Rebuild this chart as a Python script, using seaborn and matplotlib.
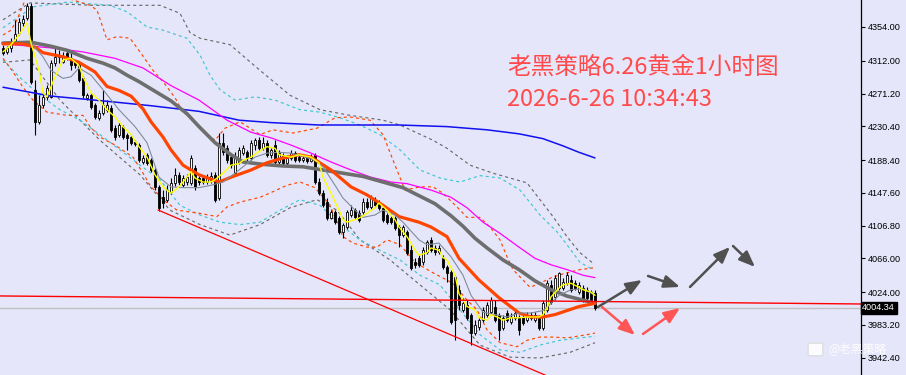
import matplotlib
matplotlib.use("Agg")
import matplotlib.pyplot as plt
import matplotlib.transforms as mtransforms
from matplotlib.patches import FancyBboxPatch
import seaborn as sns
import numpy as np

sns.set_theme(style="white")
plt.rcParams['font.family'] = ['Noto Sans CJK SC', 'DejaVu Sans']

# ---------------- data: 1h gold candles ----------------
opens = [4328, 4323, 4328, 4335, 4347, 4359, 4365, 4380, 4276, 4236,
         4257, 4267, 4267, 4309, 4317, 4310, 4322, 4315, 4310, 4307,
         4290, 4266, 4269, 4257, 4241, 4247, 4251, 4253, 4228, 4220,
         4230, 4220, 4217, 4211, 4207, 4186, 4195, 4188, 4176, 4155,
         4142, 4139, 4149, 4160, 4170, 4157, 4161, 4160, 4178, 4166,
         4166, 4161, 4164, 4170, 4141, 4210, 4203, 4192, 4172, 4186,
         4197, 4198, 4191, 4207, 4213, 4203, 4210, 4195, 4207, 4186,
         4195, 4185, 4191, 4197, 4192, 4188, 4191, 4187, 4195, 4161,
         4147, 4136, 4116, 4124, 4116, 4099, 4105, 4120, 4126, 4122,
         4124, 4136, 4130, 4139, 4135, 4129, 4120, 4116, 4116, 4105,
         4095, 4099, 4076, 4062, 4066, 4062, 4074, 4089, 4079, 4074,
         4066, 4055, 4049, 4043, 4027, 4002, 4008, 3996, 3973, 3981,
         3989, 3996, 3999, 4006, 3996, 3979, 3998, 3987, 3992, 3993,
         3993, 3989, 3996, 3989, 3992, 3979, 4002, 4033, 4018, 4029,
         4029, 4035, 4039, 4035, 4024, 4029, 4027, 4024, 4023]
highs = [4332, 4330, 4340, 4363, 4365, 4369, 4384, 4384, 4288, 4269,
         4273, 4282, 4313, 4329, 4325, 4323, 4325, 4323, 4313, 4310,
         4293, 4272, 4272, 4259, 4251, 4276, 4263, 4257, 4232, 4236,
         4232, 4222, 4220, 4213, 4210, 4195, 4197, 4191, 4178, 4157,
         4151, 4157, 4166, 4178, 4174, 4170, 4171, 4195, 4182, 4169,
         4170, 4171, 4174, 4174, 4222, 4222, 4207, 4195, 4198, 4205,
         4207, 4201, 4213, 4216, 4217, 4217, 4213, 4203, 4213, 4201,
         4197, 4195, 4201, 4200, 4195, 4195, 4195, 4196, 4197, 4166,
         4151, 4141, 4126, 4126, 4119, 4110, 4126, 4132, 4129, 4126,
         4141, 4141, 4145, 4142, 4139, 4132, 4122, 4119, 4119, 4108,
         4108, 4101, 4083, 4066, 4070, 4080, 4089, 4093, 4083, 4083,
         4070, 4058, 4052, 4045, 4033, 4017, 4014, 3998, 3989, 3993,
         4006, 4012, 4018, 4014, 3998, 3996, 4002, 3998, 4002, 3996,
         3996, 3999, 3999, 3999, 3995, 4014, 4039, 4039, 4045, 4049,
         4042, 4049, 4045, 4039, 4037, 4033, 4030, 4027, 4027]
lows = [4319, 4320, 4323, 4333, 4344, 4355, 4363, 4283, 4220, 4233,
        4253, 4263, 4266, 4305, 4309, 4309, 4313, 4300, 4303, 4286,
        4266, 4263, 4252, 4239, 4238, 4244, 4248, 4223, 4213, 4217,
        4215, 4201, 4207, 4206, 4186, 4183, 4182, 4174, 4151, 4125,
        4129, 4136, 4146, 4156, 4157, 4155, 4157, 4157, 4151, 4157,
        4159, 4159, 4160, 4136, 4139, 4195, 4185, 4178, 4170, 4183,
        4195, 4186, 4188, 4201, 4201, 4201, 4192, 4191, 4182, 4183,
        4182, 4182, 4188, 4186, 4186, 4186, 4185, 4186, 4159, 4145,
        4130, 4114, 4115, 4109, 4096, 4091, 4103, 4117, 4115, 4111,
        4121, 4127, 4127, 4130, 4126, 4111, 4109, 4109, 4101, 4080,
        4093, 4070, 4052, 4054, 4055, 4058, 4071, 4074, 4070, 4071,
        4053, 4037, 3984, 3964, 4002, 3999, 3989, 3958, 3971, 3977,
        3987, 3993, 3997, 3987, 3964, 3977, 3987, 3984, 3989, 3971,
        3983, 3987, 3989, 3987, 3977, 3977, 3999, 4009, 4014, 4027,
        4027, 4033, 4024, 4027, 4022, 4012, 4014, 4012, 4002]
closes = [4322, 4328, 4334, 4345, 4360, 4364, 4380, 4286, 4236, 4257,
          4267, 4278, 4309, 4317, 4319, 4317, 4315, 4307, 4307, 4288,
          4269, 4269, 4254, 4242, 4247, 4257, 4257, 4226, 4217, 4232,
          4217, 4216, 4210, 4208, 4188, 4191, 4185, 4176, 4155, 4129,
          4135, 4151, 4160, 4170, 4161, 4166, 4167, 4191, 4155, 4161,
          4161, 4167, 4169, 4139, 4210, 4198, 4188, 4182, 4192, 4201,
          4203, 4191, 4210, 4213, 4203, 4210, 4195, 4201, 4186, 4197,
          4185, 4191, 4197, 4188, 4188, 4191, 4187, 4192, 4161, 4147,
          4132, 4116, 4124, 4111, 4099, 4108, 4124, 4126, 4117, 4114,
          4136, 4130, 4141, 4132, 4129, 4114, 4111, 4111, 4104, 4095,
          4105, 4073, 4054, 4058, 4058, 4076, 4086, 4076, 4074, 4079,
          4055, 4048, 3987, 3989, 4008, 4010, 3992, 3973, 3983, 3989,
          4002, 4008, 4014, 3989, 3977, 3992, 3989, 3993, 3998, 3977,
          3986, 3996, 3992, 3996, 3979, 4010, 4035, 4012, 4042, 4048,
          4037, 4045, 4027, 4029, 4033, 4014, 4017, 4014, 4004.34]

# ---------------- moving averages ----------------
yellow_idx = [0, 2, 4, 6, 7, 9, 10, 11, 13, 15, 17, 19, 20, 22, 24, 26, 28, 30, 32, 34,
              36, 38, 40, 42, 44, 45, 47, 48, 50, 52, 53, 55, 57, 59, 60, 62, 64, 66, 68, 69,
              72, 74, 77, 79, 80, 82, 84, 85, 86, 89, 91, 93, 94, 96, 98, 99, 101, 103, 104, 106,
              107, 109, 110, 111, 113, 114, 116, 118, 119, 121, 122, 124, 125, 127, 129, 131, 134, 135, 136, 137,
              139, 140, 142, 144, 145, 147, 148]
yellow_val = [4323, 4332, 4344, 4359, 4334, 4300, 4272, 4267, 4292, 4313, 4315, 4306, 4292, 4272, 4263, 4251, 4242, 4230, 4220, 4205,
              4192, 4170, 4155, 4147, 4155, 4161, 4174, 4166, 4161, 4161, 4164, 4172, 4182, 4184, 4188, 4192, 4199, 4205, 4203, 4195,
              4192, 4195, 4192, 4185, 4167, 4147, 4126, 4114, 4111, 4116, 4122, 4129, 4135, 4126, 4114, 4105, 4093, 4076, 4070, 4073,
              4079, 4076, 4067, 4064, 4045, 4022, 4006, 4002, 3992, 3989, 3996, 3992, 3989, 3992, 3992, 3993, 3993, 3996, 4004, 4018,
              4029, 4033, 4035, 4030, 4027, 4024, 4020]

thin_idx = [7, 10, 12, 15, 17, 19, 22, 25, 29, 33, 36, 39, 42, 45, 49, 52, 55, 58, 60, 63,
            66, 69, 72, 75, 78, 80, 83, 85, 88, 90, 93, 95, 98, 100, 102, 104, 106, 109, 112, 115,
            117, 120, 123, 126, 129, 132, 135, 137, 139, 142, 145, 148]
thin_val = [4334, 4317, 4300, 4290, 4292, 4303, 4294, 4276, 4251, 4230, 4210, 4167, 4155, 4154, 4154, 4157, 4161, 4172, 4180, 4192,
            4197, 4198, 4197, 4193, 4188, 4180, 4157, 4141, 4126, 4117, 4120, 4126, 4120, 4111, 4100, 4089, 4083, 4085, 4068, 4045,
            4020, 3999, 3996, 3993, 3998, 3998, 4001, 4010, 4020, 4027, 4028, 4020]

orange_idx = [0, 5, 8, 10, 15, 19, 23, 26, 29, 32, 35, 37, 40, 42, 45, 49, 54, 57, 62, 66,
              70, 74, 77, 82, 87, 91, 95, 99, 104, 107, 111, 114, 119, 124, 129, 132, 135, 138, 141, 144, 148]
orange_val = [4333, 4333, 4329, 4322, 4317, 4310, 4298, 4280, 4275, 4268, 4252, 4236, 4217, 4201, 4182, 4170, 4161, 4167, 4176, 4185,
              4191, 4195, 4192, 4176, 4155, 4145, 4132, 4118, 4111, 4105, 4093, 4066, 4039, 4017, 3998, 3993, 3993, 3996, 4001, 4006, 4010]

dgray_idx = [0, 7, 12, 16, 21, 25, 28, 31, 34, 37, 42, 46, 49, 53, 57, 60, 65, 70, 75, 80,
             85, 90, 95, 100, 104, 108, 112, 115, 118, 121, 125, 129, 133, 137, 141, 145, 148]
dgray_val = [4334, 4335, 4330, 4325, 4315, 4309, 4303, 4294, 4286, 4277, 4262, 4246, 4230, 4210, 4195, 4186, 4183, 4181, 4180, 4176,
             4172, 4168, 4161, 4154, 4144, 4134, 4119, 4106, 4091, 4079, 4064, 4052, 4038, 4027, 4019, 4014, 4010]

magenta_idx = [0, 12, 20, 28, 35, 42, 49, 56, 62, 67, 72, 77, 82, 87, 92, 97, 101, 107, 112, 116,
               120, 124, 129, 133, 137, 141, 145, 148]
magenta_val = [4333, 4328, 4323, 4315, 4303, 4281, 4263, 4238, 4223, 4216, 4207, 4197, 4186, 4176, 4167, 4161, 4159, 4151, 4142, 4129,
               4111, 4098, 4080, 4066, 4058, 4052, 4045, 4042]

blue_idx = [0, 12, 25, 37, 49, 59, 67, 79, 99, 111, 121, 129, 135, 140, 144, 148]
blue_val = [4279, 4268, 4262, 4256, 4249, 4238, 4235, 4232, 4232, 4230, 4226, 4221, 4215, 4206, 4198, 4191]

# ---------------- dotted envelope bands ----------------
ou_idx = [0, 2, 3.5, 4.75, 6, 16, 21.75, 23.5, 26, 28.5, 31.75, 34.25, 37.5, 40, 43, 45, 46.75, 50.5, 53, 55.5,
          59.25, 64.25, 67.5, 72.5, 78.5, 83, 86.75, 91.75, 95, 98, 100.5, 104.25, 107.5, 110, 113.5, 116, 119.25, 121.75, 124.25, 126,
          127.5, 130, 131.75, 134.25, 137.5, 141, 144.25, 147.5]
ou_val = [4344, 4350, 4363, 4378, 4394, 4390, 4381, 4375, 4338, 4342, 4340, 4323, 4300, 4286, 4266, 4248, 4242, 4223, 4213, 4228,
          4236, 4220, 4226, 4222, 4228, 4241, 4242, 4238, 4220, 4182, 4151, 4155, 4155, 4147, 4130, 4117, 4117, 4105, 4089, 4068,
          4052, 4039, 4030, 4035, 4043, 4048, 4052, 4054]
ol_idx = [0, 2.25, 5, 7.5, 11, 16, 20, 21.75, 24.25, 28, 32.5, 35, 36.75, 40, 43.5, 49.25, 53.5, 56, 59.25, 64.25,
          67.5, 71, 74.25, 78, 81.75, 85, 87.5, 91, 93.5, 96, 99.25, 103, 107.5, 112.5, 116, 118.5, 121, 124.25, 128.5, 131,
          134.25, 137.5, 141, 146, 148]
ol_val = [4315, 4300, 4279, 4263, 4248, 4244, 4244, 4230, 4217, 4207, 4192, 4172, 4157, 4139, 4126, 4122, 4118, 4130, 4136, 4142,
          4149, 4157, 4161, 4154, 4132, 4093, 4085, 4080, 4080, 4089, 4083, 4061, 4048, 4035, 4014, 4002, 3977, 3961, 3956, 3964,
          3968, 3968, 3967, 3971, 3973]
cu_idx = [0, 7.5, 16, 26.75, 31, 36, 40, 46, 49.25, 51.75, 54.25, 58, 63, 68, 74.25, 79.25, 84.25, 89.25, 94.25, 99.25,
          104.25, 109.25, 114.25, 119.25, 124.25, 129.25, 134.25, 138.5, 141, 144.25, 147.5]
cu_val = [4353, 4379, 4385, 4381, 4373, 4354, 4350, 4340, 4319, 4294, 4276, 4263, 4267, 4263, 4251, 4248, 4241, 4232, 4220, 4201,
          4176, 4166, 4161, 4169, 4166, 4151, 4120, 4099, 4083, 4061, 4052]
cl_idx = [0, 4.25, 9.25, 14.25, 19.25, 24.25, 29.25, 34.25, 39.25, 44.25, 49.25, 54.25, 59.25, 64.25, 69.25, 74.25, 79.25, 84.25, 89.25, 94.25,
          99.25, 104.25, 109.25, 114.25, 119.25, 124.25, 129.25, 134.25, 139.25, 144.25, 148]
cl_val = [4313, 4291, 4269, 4251, 4238, 4220, 4201, 4182, 4164, 4132, 4120, 4111, 4108, 4111, 4126, 4139, 4132, 4108, 4089, 4076,
          4064, 4045, 4033, 4002, 3971, 3952, 3949, 3958, 3964, 3967, 3969]
gu_idx = [0, 6.75, 23, 39.25, 44.25, 46.75, 49.25, 56.75, 64.25, 71.75, 79.25, 86.75, 95, 99.25, 107.5, 111, 116.75, 122.5, 126.75, 131,
          134.25, 137.5, 141, 144.25, 147.5]
gu_val = [4363, 4384, 4381, 4381, 4371, 4347, 4340, 4332, 4300, 4269, 4251, 4244, 4238, 4232, 4213, 4203, 4182, 4172, 4166, 4160,
          4139, 4118, 4093, 4073, 4060]
gl_idx = [0, 6.75, 14.25, 24.25, 34.25, 41.75, 49.25, 56.75, 64.25, 71.75, 78.5, 83.5, 89.25, 96.75, 104.25, 111.75, 119.25, 126.75, 134.25, 141.75,
          148]
gl_val = [4310, 4313, 4263, 4213, 4170, 4126, 4108, 4095, 4108, 4129, 4139, 4126, 4089, 4064, 4033, 4002, 3958, 3943, 3942, 3949,
          3961]

# ---------------- drawn objects ----------------
trend_idx = [38.75, 137.0]
trend_val = [4126.2, 3917.6]
hline_idx = [-0.75, 214.5]
hline_val = [4019.2, 4009.2]
bid_price = 4004.34
dark_arrows = [((148.75, 4005.5), (159.75, 4039.1)),
               ((161.25, 4044.1), (169.25, 4030.4)),
               ((171.75, 4030.4), (181.75, 4080.2)),
               ((182.5, 4081.4), (188.0, 4055.3))]
red_arrows = [((149.75, 4005.5), (158.0, 3970.6)),
              ((160.0, 3971.9), (169.25, 4004.2))]
yticks = [4354.00, 4312.00, 4271.20, 4230.40, 4188.40, 4147.60,
          4106.80, 4066.00, 4024.00, 3983.20, 3942.40]
title1 = "老黑策略6.26黄金1小时图"
title2 = "2026-6-26 10:34:43"
watermark = "@老黑策略"

# ---------------- figure ----------------
BG = "#E6E6FA"
fig = plt.figure(figsize=(9.06, 3.75), dpi=100)
fig.patch.set_facecolor(BG)
ax = fig.add_axes([0, 0, 861 / 906, 1])
ax.set_facecolor(BG)

n = len(closes)
x = np.arange(n)
o = np.array(opens, float); c = np.array(closes, float)
h = np.array(highs, float); l = np.array(lows, float)

# candles
ax.vlines(x, l, h, color="black", lw=0.8, zorder=2)
bottoms = np.minimum(o, c)
heights = np.maximum(np.abs(c - o), 0.6)
face = np.where(c >= o, "white", "black")
ax.bar(x, heights, bottom=bottoms, width=0.62, color=face,
       edgecolor="black", linewidth=0.6, zorder=2.5)

def line(idx, val, color, lw, ls="-", z=3):
    sns.lineplot(x=idx, y=val, ax=ax, color=color, linewidth=lw,
                 linestyle=ls, estimator=None, sort=False, legend=False, zorder=z)

DOT = (0, (2.6, 2.6))
line(gu_idx, gu_val, "#6A6A6A", 0.85, DOT, 1.8)
line(gl_idx, gl_val, "#6A6A6A", 0.85, DOT, 1.8)
line(cu_idx, cu_val, "#3FC6CF", 0.85, DOT, 1.8)
line(cl_idx, cl_val, "#3FC6CF", 0.85, DOT, 1.8)
line(ou_idx, ou_val, "#FF4500", 0.85, DOT, 1.8)
line(ol_idx, ol_val, "#FF4500", 0.85, DOT, 1.8)

line(blue_idx, blue_val, "#1010F0", 1.1)
line(magenta_idx, magenta_val, "#FF00FF", 0.9)
line(dgray_idx, dgray_val, "#6E6E6E", 2.6)
line(orange_idx, orange_val, "#FF4500", 2.3)
line(thin_idx, thin_val, "#7F8C9A", 0.8)
line(yellow_idx, yellow_val, "#FFFF00", 1.0)

# red horizontal-ish line, bid line, trendline
ax.plot(hline_idx, hline_val, color="#FF0000", lw=1.0, zorder=3.5)
ax.axhline(bid_price, color="#C0C0C0", lw=1.0, zorder=1.5)
ax.plot(trend_idx, trend_val, color="#FF0000", lw=0.9, zorder=3.5)

for (s, e) in dark_arrows:
    ax.annotate("", xy=e, xytext=s,
                arrowprops=dict(arrowstyle="-|>,head_length=0.8,head_width=0.32",
                                color="#505050", lw=1.8, shrinkA=0, shrinkB=0), zorder=4)
for (s, e) in red_arrows:
    ax.annotate("", xy=e, xytext=s,
                arrowprops=dict(arrowstyle="-|>,head_length=0.8,head_width=0.32",
                                color="#FF5555", lw=1.8, shrinkA=0, shrinkB=0), zorder=4)

ax.set_xlim(-0.75, 214.5)
ax.set_ylim(3920.8, 4387.6)

# right axis
for sp in ["left", "top", "bottom"]:
    ax.spines[sp].set_visible(False)
ax.spines["right"].set_color("black")
ax.spines["right"].set_linewidth(0.9)
ax.yaxis.tick_right()
ax.set_yticks(yticks)
ax.set_yticklabels([f"{t:.2f}" for t in yticks], fontfamily="Liberation Sans", fontsize=6.6)
ax.tick_params(axis="y", direction="out", length=3, width=0.8, pad=2, colors="black", right=True)
ax.set_xticks([])
ax.grid(False)

trans = mtransforms.blended_transform_factory(ax.transAxes, ax.transData)
ax.text(1.0015, bid_price, f"{bid_price:.2f}", transform=trans, ha="left", va="center",
        fontsize=6.6, fontfamily="Liberation Sans", color="white", zorder=6,
        bbox=dict(boxstyle="square,pad=0.18", fc="black", ec="black"), clip_on=False)

# title texts
fig.text(507 / 906, 1 - 67 / 375, title1, color="#FF4B4B", fontsize=17, ha="left", va="center")
fig.text(507 / 906, 1 - 99 / 375, title2, color="#FF4B4B", fontsize=17, ha="left", va="center")

# watermark
fig.patches.append(FancyBboxPatch((810 / 906, 1 - 355 / 375), 11 / 906, 11 / 375,
                                  boxstyle="round,pad=0.002", fc="white", ec="#DDDDDD",
                                  alpha=0.9, transform=fig.transFigure, figure=fig))
fig.text(828 / 906, 1 - 349 / 375, watermark, color="white", alpha=0.9, fontsize=8.5,
         ha="left", va="center")

fig.savefig("out.png", dpi=100, facecolor=BG)
